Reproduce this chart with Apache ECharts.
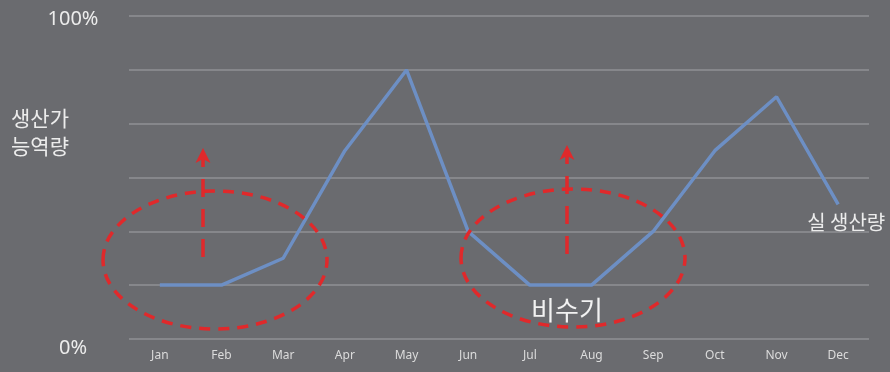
<!DOCTYPE html>
<html>
<head>
<meta charset="utf-8">
<script src="https://cdn.jsdelivr.net/npm/echarts@6/dist/echarts.min.js"></script>
<style>
  html, body { margin: 0; padding: 0; background: #6a6b6f; }
  #chart { width: 890px; height: 372px; }
</style>
</head>
<body>
<div id="chart"></div>
<script>
// Monthly actual output as a share of production capacity (%)
const months = ['Jan', 'Feb', 'Mar', 'Apr', 'May', 'Jun', 'Jul', 'Aug', 'Sep', 'Oct', 'Nov', 'Dec'];
const actualOutput = [16.7, 16.7, 25, 58.3, 83.3, 33.3, 16.7, 16.7, 33.3, 58.3, 75, 41.7];
const seriesName = '실 생산량';
const axisTitle = '생산가\n능역량';
const offSeasonLabel = '비수기';
const yTickLabels = { 0: '0%', 100: '100%' };

const FONT = "'Noto Sans', 'Noto Sans CJK KR', sans-serif";
const KFONT = "'Noto Sans CJK KR', sans-serif";
const RED = '#e0292b';
const TEXT = '#ececec';

const chart = echarts.init(document.getElementById('chart'), null, { renderer: 'canvas' });

function dashedArrow(x, yBottom, tipY) {
  return [
    {
      type: 'line',
      shape: { x1: x, y1: yBottom, x2: x, y2: tipY + 11 },
      style: { stroke: RED, lineWidth: 3.5, lineDash: [18, 12] },
      z: 10
    },
    {
      type: 'polygon',
      shape: { points: [[x, tipY], [x + 7.5, tipY + 15], [x, tipY + 11], [x - 7.5, tipY + 15]] },
      style: { fill: RED },
      z: 10
    }
  ];
}

function dashedEllipse(cx, cy) {
  return {
    type: 'ellipse',
    shape: { cx: cx, cy: cy, rx: 112, ry: 69 },
    style: { fill: null, stroke: RED, lineWidth: 3.5, lineDash: [11, 8] },
    z: 10
  };
}

chart.setOption({
  backgroundColor: '#6a6b6f',
  animation: false,
  textStyle: { fontFamily: FONT },
  grid: { left: 129, right: 21, top: 16, bottom: 33 },
  xAxis: {
    type: 'category',
    data: months,
    boundaryGap: true,
    axisLine: { show: false },
    axisTick: { show: false },
    axisLabel: { color: '#dcdcdc', fontSize: 12, margin: 11, fontFamily: FONT }
  },
  yAxis: {
    type: 'value',
    min: 0,
    max: 100,
    interval: 100 / 6,
    axisLine: { show: false },
    axisTick: { show: false },
    splitLine: { lineStyle: { color: '#909094', width: 1.5 } },
    axisLabel: {
      align: 'center',
      margin: 56,
      color: TEXT,
      fontFamily: FONT,
      fontSize: 20,
      formatter: function (v) {
        if (v > 99) return '{top|' + yTickLabels[100] + '}';
        if (v < 1) return '{bot|' + yTickLabels[0] + '}';
        return '';
      },
      rich: {
        top: { fontSize: 20, color: TEXT, fontFamily: FONT, padding: [6, 0, 0, 0] },
        bot: { fontSize: 20, color: TEXT, fontFamily: FONT, padding: [18, 0, 0, 0] }
      }
    }
  },
  series: [{
    name: seriesName,
    type: 'line',
    data: actualOutput,
    symbol: 'none',
    lineStyle: { color: '#6d8fc4', width: 3.5 },
    endLabel: {
      show: true,
      formatter: seriesName,
      color: TEXT,
      fontSize: 20,
      fontFamily: KFONT,
      distance: 0,
      offset: [-31, 18]
    },
    z: 5
  }],
  graphic: [
    {
      type: 'text',
      left: 11,
      top: 104,
      style: { text: axisTitle, fill: TEXT, font: '21px ' + KFONT, lineHeight: 28 }
    },
    dashedEllipse(215, 260),
    dashedEllipse(573, 258),
    ...dashedArrow(203, 257, 148),
    ...dashedArrow(567, 254, 145),
    {
      type: 'text',
      x: 567,
      y: 310,
      style: { text: offSeasonLabel, fill: '#f2f2f2', font: '26px ' + KFONT, align: 'center', verticalAlign: 'middle' },
      z: 11
    }
  ]
});
</script>
</body>
</html>
